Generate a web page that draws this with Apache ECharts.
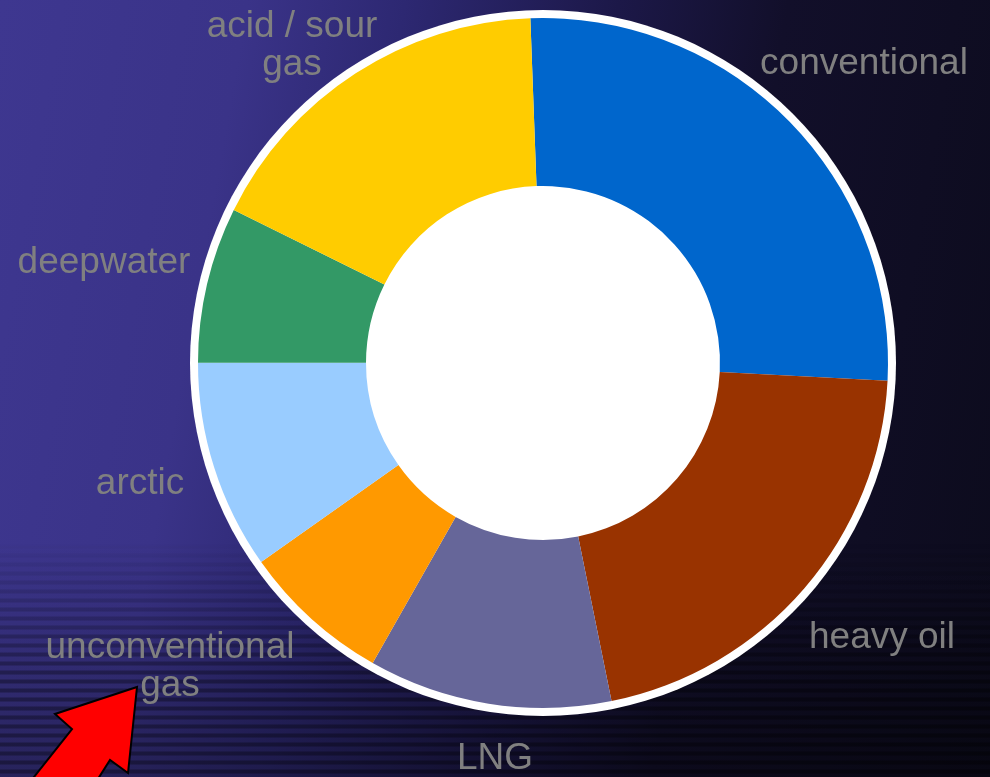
<!DOCTYPE html>
<html>
<head>
<meta charset="utf-8">
<script src="https://cdn.jsdelivr.net/npm/echarts@6/dist/echarts.min.js"></script>
<style>
  html, body { margin: 0; padding: 0; }
  #wrap {
    position: relative; width: 990px; height: 777px; overflow: hidden;
    background: linear-gradient(100deg, #3e3790 0%, #3a3388 22%, #2d2872 36%, #1c1848 55%, #120f2a 70%, #0c0b1c 100%);
  }
  #shade {
    position: absolute; left: 0; top: 0; width: 990px; height: 777px;
    background: linear-gradient(to bottom, rgba(0,0,0,0) 0%, rgba(0,0,0,0) 70%, rgba(0,0,0,0.35) 100%);
  }
  #stripes {
    position: absolute; left: 0; top: 540px; width: 990px; height: 237px;
    background: repeating-linear-gradient(to bottom, rgba(0,0,0,0) 0px, rgba(0,0,0,0) 4px, rgba(0,0,0,0.32) 5px, rgba(0,0,0,0.32) 8px, rgba(0,0,0,0) 9px);
    -webkit-mask-image: linear-gradient(to bottom, rgba(0,0,0,0) 0%, rgba(0,0,0,1) 60%);
    mask-image: linear-gradient(to bottom, rgba(0,0,0,0) 0%, rgba(0,0,0,1) 60%);
  }
  #chart { position: absolute; left: 0; top: 0; width: 990px; height: 777px; }
</style>
</head>
<body>
<div id="wrap">
  <div id="shade"></div>
  <div id="stripes"></div>
  <div id="chart"></div>
</div>
<script>
// slices, clockwise from the top
var categories = ['conventional', 'heavy oil', 'LNG', 'unconventional\ngas', 'arctic', 'deepwater', 'acid / sour\ngas']
var values = [26.4, 21.0, 11.4, 7.0, 9.8, 7.3, 17.1]
var colors = ['#0066cc', '#993300', '#666699', '#ff9900', '#99ccff', '#339966', '#ffcc00']

// where each label sits (centre of the text block)
var labelPos = [[864, 64], [882, 638], [495, 759], [170, 667], [140, 484], [104, 263], [292, 46]]

var chart = echarts.init(document.getElementById('chart'))

var pieData = categories.map(function (name, i) {
  return {name: name, value: values[i], itemStyle: {color: colors[i]}}
})

chart.setOption({
  backgroundColor: 'transparent',
  animation: false,
  series: [
    {
      // white disc behind the ring: outer rim and the hole
      type: 'pie',
      silent: true,
      center: [543, 363],
      radius: [0, 353],
      label: {show: false},
      labelLine: {show: false},
      itemStyle: {color: '#ffffff'},
      emphasis: {disabled: true},
      data: [{value: 1, name: ''}]
    },
    {
      type: 'pie',
      silent: true,
      center: [543, 363],
      radius: [177, 345],
      startAngle: 92.1,
      clockwise: true,
      avoidLabelOverlap: false,
      emphasis: {disabled: true},
      label: {
        show: true,
        position: 'outside',
        formatter: '{b}',
        color: '#808080',
        fontSize: 37,
        lineHeight: 38,
        fontFamily: 'Liberation Sans, Arial, sans-serif',
        align: 'center'
      },
      labelLine: {show: false},
      labelLayout: function (params) {
        var p = labelPos[params.dataIndex]
        return {x: p[0], y: p[1], align: 'center', verticalAlign: 'middle'}
      },
      data: pieData
    }
  ],
  graphic: [
    {
      type: 'polygon',
      shape: {
        points: [[137, 687], [55, 714], [72, 729], [30, 782], [96, 782], [110, 760], [128, 773]]
      },
      style: {fill: '#ff0000', stroke: '#000000', lineWidth: 2}
    }
  ]
})
</script>
</body>
</html>
